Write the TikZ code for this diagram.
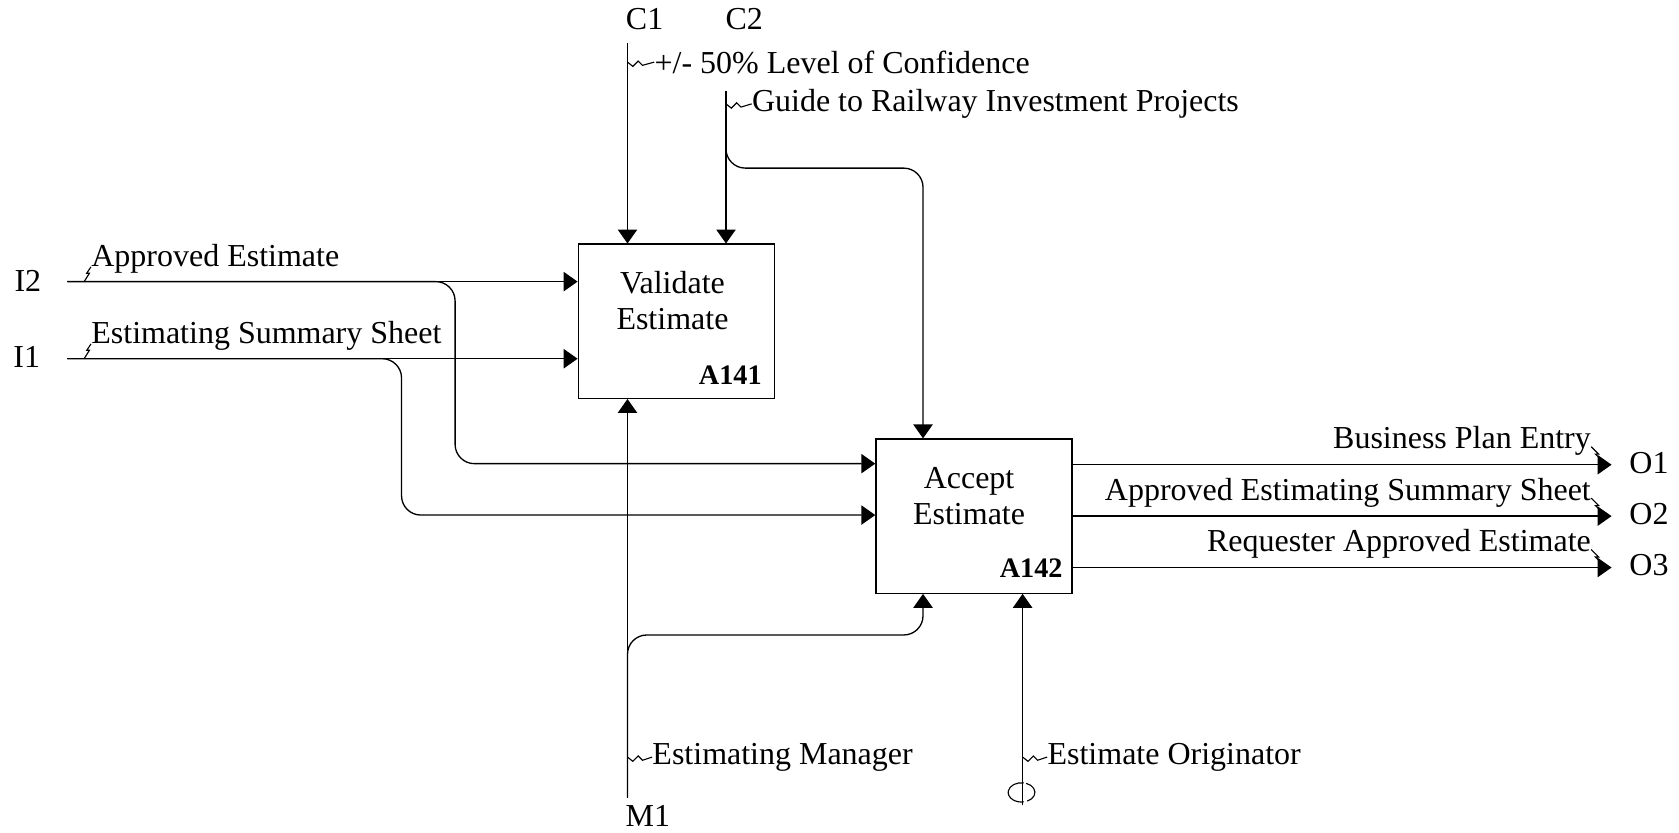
\documentclass[tikz,border=0pt]{standalone}
\usepackage{fontspec}
\setmainfont{Liberation Serif}
\usetikzlibrary{arrows.meta,positioning}

\begin{document}
\begin{tikzpicture}[x=0.02cm, y=-0.02cm,
  every node/.style={font=\fontsize{17}{19}\selectfont, inner sep=0pt},
  fn/.style={draw, line width=0.7pt, minimum width=3.66cm, minimum height=2.88cm},
  code/.style={font=\fontsize{15}{18}\selectfont\bfseries},
  flow/.style={line width=0.7pt, -{Triangle[length=0.26cm, width=0.36cm]}},
  branch/.style={rounded corners=0.36cm},
  link/.style={line width=0.6pt}]
  \useasboundingbox (0,0) rectangle (1568,777);

  % activity boxes
  \node[fn] (val) at (631.5,300) {};
  \node[fn] (acc) at (909.5,482) {};
  \node[align=center] (valname) at (628,281) {Validate\\Estimate};
  \node[code] (valcode) at (682,350) {A141};
  \node[align=center] (accname) at (905,463) {Accept\\Estimate};
  \node[code] (acccode) at (963,531) {A142};

  % boundary ends
  \node (c1) at (602,18) {C1};
  \node (c2) at (695,18) {C2};
  \node (i2) at (26,262) {I2};
  \node (i1) at (25,333) {I1};
  \node (m1) at (605,762) {M1};
  \node (o1) at (1540,432) {O1};
  \node (o2) at (1540,480) {O2};
  \node (o3) at (1540,528) {O3};

  \coordinate (c1src) at (586,40);
  \coordinate (c2src) at (678,85);
  \coordinate (c2bend) at (862,157);
  \coordinate (i2src) at (63,263);
  \coordinate (i2bend) at (425,433);
  \coordinate (i1src) at (63,335);
  \coordinate (i1bend) at (375,481);
  \coordinate (m1src) at (586,745);
  \coordinate (m1bend) at (862,593);
  \coordinate (orsrc) at (955,752);
  \coordinate (tunnel) at (954,740);
  \coordinate (o1dst) at (1505,434);
  \coordinate (o2dst) at (1505,482);
  \coordinate (o3dst) at (1505,530);

  % controls
  \draw[flow] (c1src) -- (val.north -| c1src);
  \draw[flow] (c2src) -- (val.north -| c2src);
  \draw[flow, branch] (c2src) |- (c2bend) -- (acc.north -| c2bend);

  % inputs
  \draw[flow] (i2src) -- (val.west |- i2src);
  \draw[flow, branch] (i2src) -| (i2bend) -- (acc.west |- i2bend);
  \draw[flow] (i1src) -- (val.west |- i1src);
  \draw[flow, branch] (i1src) -| (i1bend) -- (acc.west |- i1bend);

  % mechanisms
  \draw[flow] (m1src) -- (val.south -| m1src);
  \draw[flow, branch] (m1src) |- (m1bend) -- (acc.south -| m1bend);
  \draw[flow] (orsrc) -- (acc.south -| orsrc);
  % tunnelled end
  \draw[link] (tunnel) ++(80:0.25cm and 0.18cm)
    arc[start angle=80, end angle=280, x radius=0.25cm, y radius=0.18cm];
  \draw[link] (tunnel) ++(295:0.25cm and 0.18cm)
    arc[start angle=295, end angle=430, x radius=0.25cm, y radius=0.18cm];

  % outputs
  \draw[flow] (acc.east |- o1dst) -- (o1dst);
  \draw[flow] (acc.east |- o2dst) -- (o2dst);
  \draw[flow] (acc.east |- o3dst) -- (o3dst);

  % arrow labels and their squiggles
  \node[anchor=west] (conf) at (611,58) {+/- 50\% Level of Confidence};
  \node[anchor=west] (guide) at (702,97) {Guide to Railway Investment Projects};
  \node[anchor=west] (appest) at (85,242) {Approved Estimate};
  \node[anchor=west] (ess) at (85,314) {Estimating Summary Sheet};
  \node[anchor=east] (bpe) at (1486,412) {Business Plan Entry};
  \node[anchor=east] (aess) at (1486,460) {Approved Estimating Summary Sheet};
  \node[anchor=east] (rae) at (1486,508) {Requester Approved Estimate};
  \node[anchor=west] (mgr) at (609,707) {Estimating Manager};
  \node[anchor=west] (orig) at (978,707) {Estimate Originator};

  \draw[link] (c1src |- conf.west) -- ++(5,4) -- ++(5,-5) -- ++(4,4) -- (conf.west);
  \draw[link] (c2src |- guide.west) -- ++(5,4) -- ++(5,-5) -- ++(4,4) -- (guide.west);
  \draw[link] (appest.base west) -- ++(-4,6) -- ++(2.5,0) -- ++(-5,8);
  \draw[link] (ess.base west) -- ++(-4,6) -- ++(2.5,0) -- ++(-5,8);
  \draw[link] (bpe.base east) ++(0,-2) -- ++(7,7) -- ++(-3,0) -- ++(8,8);
  \draw[link] (aess.base east) ++(0,-2) -- ++(7,7) -- ++(-3,0) -- ++(8,8);
  \draw[link] (rae.base east) ++(0,-2) -- ++(7,7) -- ++(-3,0) -- ++(8,8);
  \draw[link] (m1src |- mgr.west) -- ++(5,4) -- ++(5,-5) -- ++(4,4) -- (mgr.west);
  \draw[link] (orsrc |- orig.west) -- ++(5,4) -- ++(5,-5) -- ++(4,4) -- (orig.west);
\end{tikzpicture}
\end{document}
